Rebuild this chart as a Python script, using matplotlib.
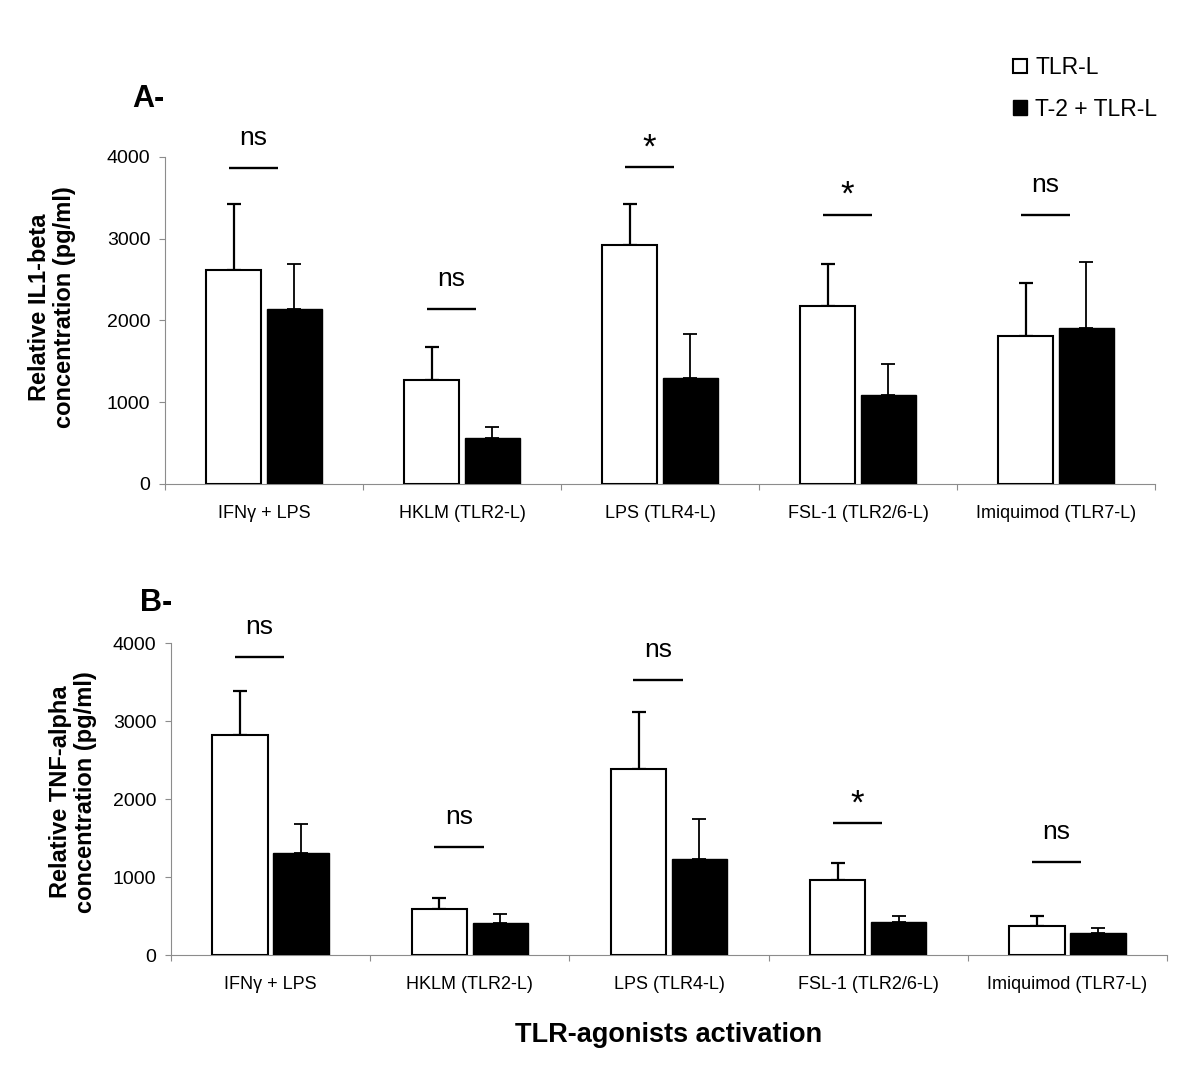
import numpy as np
import matplotlib
matplotlib.use("Agg")
import matplotlib.pyplot as plt
from matplotlib.patches import Patch

plt.rcParams['font.family'] = ['Liberation Sans', 'DejaVu Sans']

# categories and values (pg/ml)
categories = ['IFN\u03b3 + LPS', 'HKLM (TLR2-L)', 'LPS (TLR4-L)',
              'FSL-1 (TLR2/6-L)', 'Imiquimod (TLR7-L)']

# panel A: IL1-beta
il1_tlr = [2617, 1274, 2922, 2177, 1811]
il1_tlr_err = [805, 398, 504, 509, 643]
il1_t2 = [2136, 562, 1302, 1091, 1904]
il1_t2_err = [550, 134, 529, 374, 810]
il1_sig = ['ns', 'ns', '*', '*', 'ns']
il1_sig_y = [3870, 2136, 3874, 3296, 3296]

# panel B: TNF-alpha
tnf_tlr = [2815, 590, 2387, 967, 376]
tnf_tlr_err = [565, 146, 732, 214, 120]
tnf_t2 = [1305, 406, 1232, 428, 287]
tnf_t2_err = [372, 120, 513, 72, 64]
tnf_sig = ['ns', 'ns', 'ns', '*', 'ns']
tnf_sig_y = [3825, 1386, 3525, 1690, 1198]

W, H = 1200, 1071
fig = plt.figure(figsize=(W / 100, H / 100), dpi=100)
axA = fig.add_axes([165 / W, 1 - 484 / H, 990 / W, (484 - 157) / H])
axB = fig.add_axes([171 / W, 1 - 955 / H, 996 / W, (955 - 643) / H])

grey = '#8c8c8c'
bw = 0.278
off = 0.153


def draw_panel(ax, tlr, tlr_err, t2, t2_err, sig, sig_y):
    x = np.arange(len(categories)) + 0.5
    ax.bar(x - off, tlr, bw, color='white', edgecolor='black', linewidth=1.5, zorder=3)
    ax.bar(x + off, t2, bw, color='black', edgecolor='black', linewidth=1.0, zorder=3)
    ax.errorbar(x - off, tlr, yerr=[np.zeros(len(tlr)), tlr_err], fmt='none',
                ecolor='black', elinewidth=1.6, capsize=5, capthick=1.6, zorder=2)
    ax.errorbar(x + off, t2, yerr=[np.zeros(len(t2)), t2_err], fmt='none',
                ecolor='black', elinewidth=1.3, capsize=5, capthick=1.3, zorder=2)

    # significance marks
    for xi, s, yi in zip(x, sig, sig_y):
        xc = xi - 0.055
        ax.plot([xc - 0.124, xc + 0.124], [yi, yi], color='black', lw=1.7,
                clip_on=False, solid_capstyle='butt')
        if s == '*':
            ax.annotate(s, (xc, yi), xytext=(0, 7), textcoords='offset points',
                        ha='center', va='baseline', fontsize=25, annotation_clip=False)
        else:
            ax.annotate(s, (xc, yi), xytext=(0, 16.5), textcoords='offset points',
                        ha='center', va='baseline', fontsize=19, annotation_clip=False)

    ax.set_xlim(0, len(categories))
    ax.set_ylim(0, 4000)
    ax.set_yticks([0, 1000, 2000, 3000, 4000])
    ax.tick_params(axis='y', labelsize=14, length=4.5, width=0.8, color=grey, pad=6)
    ax.set_xticks(np.arange(len(categories) + 1))
    ax.set_xticklabels([])
    ax.set_xticks(x, minor=True)
    ax.set_xticklabels(categories, minor=True)
    ax.tick_params(axis='x', which='major', length=4.5, width=0.8, color=grey)
    ax.tick_params(axis='x', which='minor', length=0, labelsize=13, pad=15)
    for sp in ['top', 'right']:
        ax.spines[sp].set_visible(False)
    for sp in ['left', 'bottom']:
        ax.spines[sp].set_color(grey)
        ax.spines[sp].set_linewidth(0.8)


draw_panel(axA, il1_tlr, il1_tlr_err, il1_t2, il1_t2_err, il1_sig, il1_sig_y)
draw_panel(axB, tnf_tlr, tnf_tlr_err, tnf_t2, tnf_t2_err, tnf_sig, tnf_sig_y)

fig.text(52 / W, 1 - 307 / H, 'Relative IL1-beta\nconcentration (pg/ml)', rotation=90,
         ha='center', va='center', multialignment='center', fontsize=17,
         fontweight='bold', linespacing=1.1)
fig.text(73 / W, 1 - 792 / H, 'Relative TNF-alpha\nconcentration (pg/ml)', rotation=90,
         ha='center', va='center', multialignment='center', fontsize=17,
         fontweight='bold', linespacing=1.1)

fig.text(132 / W, 1 - 99 / H, 'A-', ha='left', va='center', fontsize=22, fontweight='bold')
fig.text(140 / W, 1 - 603 / H, 'B-', ha='left', va='center', fontsize=22, fontweight='bold')

fig.text(669 / W, 1 - 1035 / H, 'TLR-agonists activation', ha='center', va='center',
         fontsize=19.5, fontweight='bold')

handles = [Patch(facecolor='white', edgecolor='black', linewidth=1.5, label='TLR-L'),
           Patch(facecolor='black', edgecolor='black', label='T-2 + TLR-L')]
fig.legend(handles=handles, loc='upper left', bbox_to_anchor=(1013 / W, 1 - 56 / H),
           frameon=False, fontsize=16.5, handlelength=0.62, handleheight=0.62,
           handletextpad=0.35, labelspacing=0.82, borderpad=0, borderaxespad=0)

fig.savefig('out.png', dpi=100)
